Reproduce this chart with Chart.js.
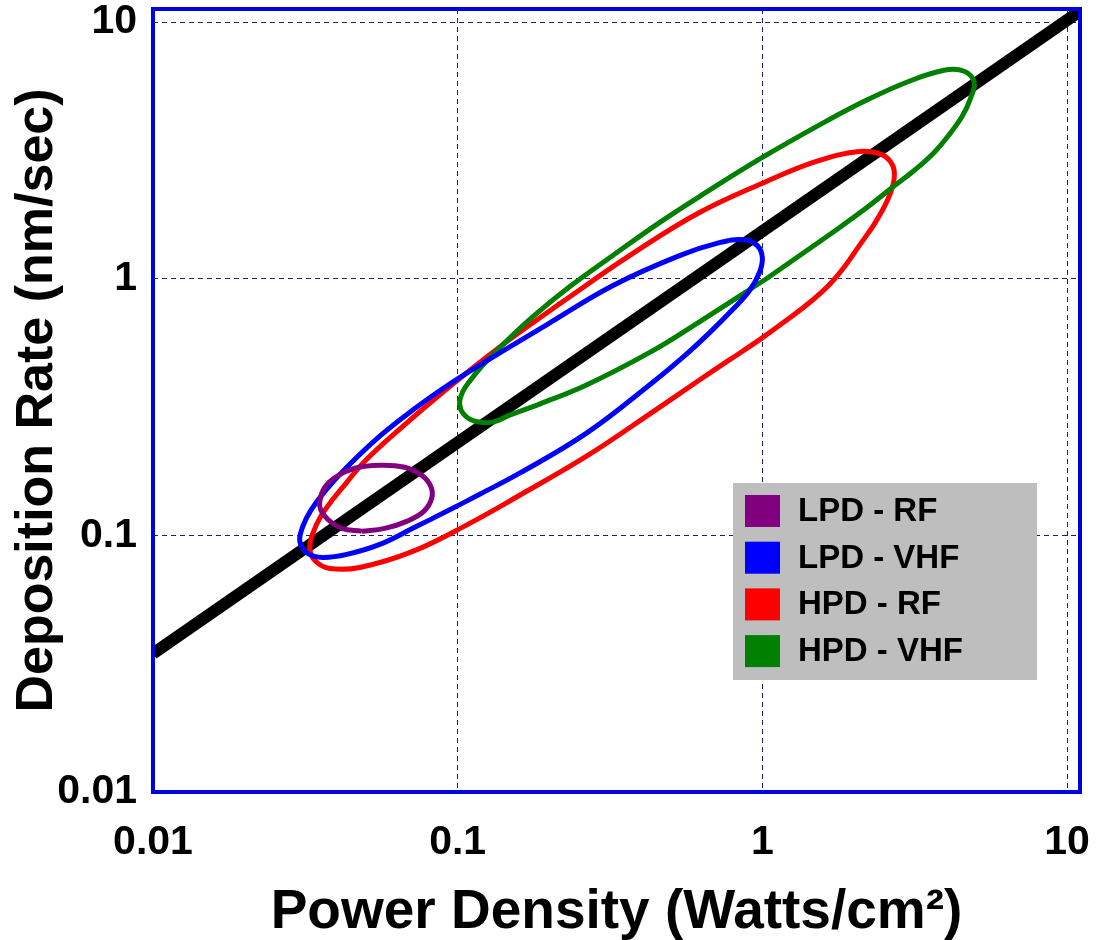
<!DOCTYPE html>
<html>
<head>
<meta charset="utf-8">
<script src="https://cdn.jsdelivr.net/npm/chart.js@4.4.1/dist/chart.umd.min.js"></script>
<style>
  html, body { margin: 0; padding: 0; background: #fff; }
  #wrap { position: relative; width: 1106px; height: 940px; }
</style>
</head>
<body>
<div id="wrap"><canvas id="chart"></canvas></div>
<script>
// Deposition rate vs power density (log-log) with process-window loops

const tickValues = [0.01, 0.1, 1, 10];
const tickLabels = ['0.01', '0.1', '1', '10'];

const seriesNames = ['LPD - RF', 'LPD - VHF', 'HPD - RF', 'HPD - VHF'];
const seriesColors = ['#800080', '#0000ff', '#ff0000', '#008000'];

// black trend line
const trendX = [0.01, 11.1];
const trendY = [0.0346, 11.1];

// LPD - RF loop
const lpdRfX = [0.04845, 0.04166, 0.03748, 0.03555, 0.03528, 0.03664, 0.04011, 0.04595, 0.0555,
                0.06702, 0.0762, 0.08156, 0.08218, 0.07736, 0.06804, 0.05763, 0.04845];
const lpdRfY = [0.1037, 0.1065, 0.1155, 0.1252, 0.1358, 0.1540, 0.1700, 0.1827, 0.1877,
                0.1843, 0.1715, 0.1554, 0.1395, 0.1241, 0.1134, 0.1065, 0.1037];

// LPD - VHF loop
const lpdVhfX = [0.1374, 0.1958, 0.3223, 0.5345, 0.7227, 0.8729, 0.9630, 1.000, 0.9776, 0.9065, 0.7973,
                 0.6702, 0.5550, 0.4261, 0.2648, 0.1597, 0.1181, 0.09203, 0.0712, 0.0555, 0.04326, 0.03609,
                 0.03222, 0.03034, 0.03103, 0.03296, 0.03664, 0.04326, 0.0555, 0.0712, 0.09203, 0.1374];
const lpdVhfY = [0.5140, 0.6612, 0.9390, 1.230, 1.382, 1.420, 1.346, 1.208, 1.055, 0.8977, 0.7566,
                 0.6153, 0.5003, 0.3854, 0.2503, 0.1747, 0.1446, 0.1241, 0.1065, 0.0922, 0.0843, 0.0820,
                 0.0850, 0.0947, 0.1084, 0.1252, 0.1485, 0.1843, 0.2436, 0.3078, 0.3820, 0.5140];

// HPD - RF loop
const hpdRfX = [0.2160, 0.3664, 0.6215, 1.031, 1.503, 2.080, 2.456, 2.668, 2.708, 2.589, 2.347, 2.080,
                1.871, 1.658, 1.426, 1.181, 0.9776, 0.7794, 0.6215, 0.4359, 0.2648, 0.1597, 0.1095, 0.0712,
                0.04772, 0.03805, 0.03423, 0.03272, 0.03347, 0.03555, 0.03892, 0.04326, 0.04956, 0.06453,
                0.09203, 0.1374, 0.2160];
const hpdRfY = [0.7986, 1.230, 1.811, 2.393, 2.865, 3.134, 3.051, 2.788, 2.458, 2.054, 1.655, 1.346,
                1.124, 0.9475, 0.8059, 0.6793, 0.5776, 0.4826, 0.4031, 0.3023, 0.2035, 0.1433, 0.1114, 0.0866,
                0.0750, 0.0743, 0.0791, 0.0882, 0.1018, 0.1187, 0.1382, 0.1610, 0.1945, 0.2595,
                0.3718, 0.5425, 0.7986];

// HPD - VHF loop
const hpdVhfX = [1.031, 0.6215, 0.4359, 0.2648, 0.1857, 0.1481, 0.1303, 0.1137, 0.1046, 0.1015, 0.1038,
                 0.1103, 0.1226, 0.1426, 0.1762, 0.2329, 0.3223, 0.4595, 0.6215, 1.000, 1.573, 2.193,
                 3.034, 3.951, 4.595, 4.956, 4.808, 4.527, 4.135, 3.664, 3.150, 2.668, 2.160, 1.696, 1.031];
const hpdVhfY = [1.000, 0.6793, 0.5233, 0.3854, 0.3249, 0.2943, 0.2763, 0.2788, 0.2970, 0.3249, 0.3619,
                 0.4031, 0.4697, 0.5623, 0.7104, 0.9306, 1.230, 1.655, 2.091, 2.969, 4.032, 4.958,
                 5.882, 6.494, 6.436, 5.830, 5.003, 4.294, 3.685, 3.106, 2.641, 2.267, 1.860, 1.512, 1.000];

const FONT = "'Liberation Sans', Arial, Helvetica, sans-serif";

const toPoints = (xs, ys) => xs.map((x, i) => ({ x, y: ys[i] }));

const loops = [
    toPoints(lpdRfX, lpdRfY),
    toPoints(lpdVhfX, lpdVhfY),
    toPoints(hpdRfX, hpdRfY),
    toPoints(hpdVhfX, hpdVhfY)
];
const loopOrder = [1, 2, 4, 3];

const datasets = loops.map((pts, i) => ({
    label: seriesNames[i],
    data: pts,
    showLine: true,
    borderColor: seriesColors[i],
    backgroundColor: seriesColors[i],
    borderWidth: 5,
    pointRadius: 0,
    tension: 0.4,
    fill: false,
    order: loopOrder[i]
}));

datasets.push({
    label: 'trend',
    data: toPoints(trendX, trendY),
    showLine: true,
    borderColor: '#000',
    borderWidth: 12,
    borderCapStyle: 'butt',
    pointRadius: 0,
    tension: 0,
    order: 5
});

// blue frame round the plot area
const framePlugin = {
    id: 'frame',
    afterDatasetsDraw(chart) {
        const { ctx, chartArea: a } = chart;
        ctx.save();
        ctx.strokeStyle = '#0000e0';
        ctx.lineWidth = 4;
        ctx.strokeRect(a.left, a.top, a.right - a.left, a.bottom - a.top);
        ctx.restore();
    }
};

// grey legend box with colour squares
const boxLegend = {
    id: 'boxLegend',
    afterDraw(chart) {
        const ctx = chart.ctx;
        const left = 733, top = 483, w = 304, h = 197;
        ctx.save();
        ctx.fillStyle = '#bebebe';
        ctx.fillRect(left, top, w, h);
        ctx.font = `bold 33px ${FONT}`;
        ctx.textBaseline = 'middle';
        seriesNames.forEach((name, i) => {
            const cy = top + 28 + i * 46.7;
            ctx.fillStyle = seriesColors[i];
            ctx.fillRect(left + 12, cy - 16, 35, 32);
            ctx.fillStyle = '#000';
            ctx.fillText(name, left + 65, cy + 1);
        });
        ctx.restore();
    }
};

const tickFont = { family: FONT, size: 41, weight: 'bold' };

new Chart(document.getElementById('chart'), {
    type: 'scatter',
    data: { datasets },
    options: {
        responsive: true,
        maintainAspectRatio: false,
        animation: false,
        layout: { padding: { top: 9, right: 26, left: 0, bottom: 0 } },
        plugins: {
            legend: { display: false },
            tooltip: { enabled: false }
        },
        scales: {
            x: {
                type: 'logarithmic',
                min: 0.01,
                max: 11.03,
                afterBuildTicks: s => { s.ticks = tickValues.map(v => ({ value: v })); },
                afterFit: s => { s.height = 148; s.paddingLeft = 0; s.paddingRight = 0; },
                grid: {
                    color: c => (c.tick && c.tick.value === 0.01) ? 'rgba(0,0,0,0)' : '#1c1c80',
                    lineWidth: 1,
                    drawTicks: false
                },
                border: { display: false, dash: [5, 4] },
                ticks: {
                    callback: v => tickLabels[tickValues.indexOf(v)] ?? '',
                    font: tickFont,
                    color: '#000',
                    padding: 26,
                    maxRotation: 0,
                    autoSkip: false
                },
                title: {
                    display: true,
                    text: 'Power Density (Watts/cm²)',
                    color: '#000',
                    font: { family: FONT, size: 55, weight: 'bold', lineHeight: 1 },
                    padding: { top: 0, bottom: 0 }
                }
            },
            y: {
                type: 'logarithmic',
                min: 0.01,
                max: 11.25,
                afterBuildTicks: s => { s.ticks = tickValues.map(v => ({ value: v })); },
                afterFit: s => { s.width = 153; s.paddingTop = 0; s.paddingBottom = 0; },
                grid: {
                    color: c => (c.tick && c.tick.value === 0.01) ? 'rgba(0,0,0,0)' : '#1c1c80',
                    lineWidth: 1,
                    drawTicks: false
                },
                border: { display: false, dash: [5, 4] },
                ticks: {
                    callback: v => tickLabels[tickValues.indexOf(v)] ?? '',
                    font: tickFont,
                    color: '#000',
                    padding: 16,
                    autoSkip: false
                },
                title: {
                    display: true,
                    text: 'Deposition Rate (nm/sec)',
                    color: '#000',
                    font: { family: FONT, size: 52, weight: 'bold', lineHeight: 1 },
                    padding: { top: 12, bottom: 0 }
                }
            }
        }
    },
    plugins: [framePlugin, boxLegend]
});
</script>
</body>
</html>
